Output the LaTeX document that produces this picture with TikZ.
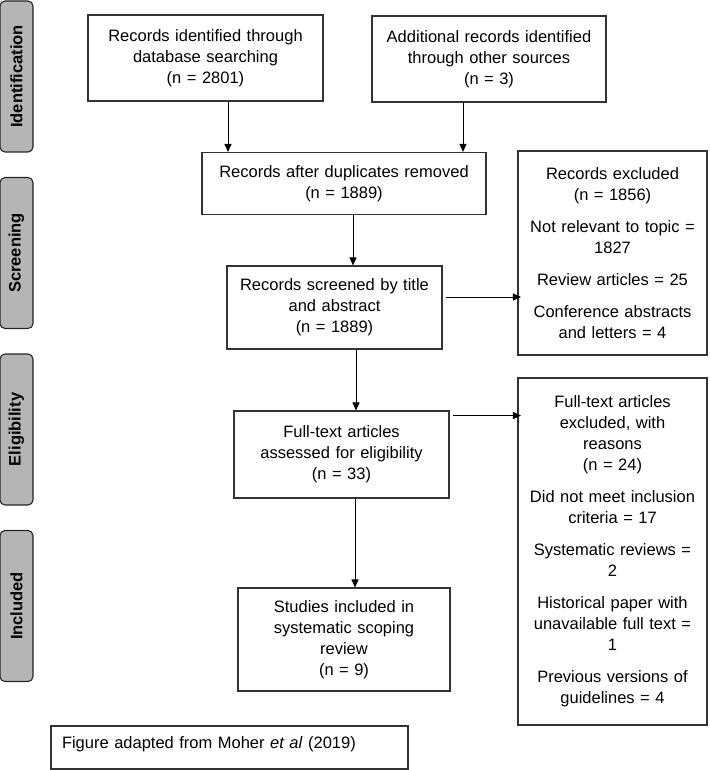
\documentclass[tikz,border=0pt]{standalone}
\usepackage{fontspec}
\setmainfont{Liberation Sans}
\usepackage{xcolor}
\usetikzlibrary{arrows,arrows.meta}
\definecolor{stagegray}{RGB}{181,181,181}
\tikzset{box/.style = {rectangle, draw=black!80, line width=1.1pt,
                           inner xsep=4pt, inner ysep=2pt, align=center,
                           font=\fontsize{16.5}{21}\selectfont}}

\begin{document}
\begin{tikzpicture}[x=1pt, y=-1pt, node distance=176.5pt, >={Triangle[length=8pt,width=7pt]}, line width=1pt, stage/.style = {draw=black!85, line width=1.1pt, fill=stagegray, rounded corners=5pt, rotate=90, minimum width=151pt, minimum height=33pt, inner sep=0pt, font=\fontsize{16.5}{18}\selectfont\bfseries}]
\useasboundingbox (0,0) rectangle (709,770);
% phases on the left
\node[stage] (idf) at (16.5,76.5) {Identification};
\node[below of=idf, stage] (scr) {Screening};
\node[below of=scr, stage] (elg) {Eligibility};
\node[below of=elg, stage] (inc) {Included};
% flow boxes
\node[box, minimum width=235pt, minimum height=86pt, text width=227pt] (db) at (205.5,58) {Records identified through\\database searching\\(n = 2801)};
\node[box, minimum width=234pt, minimum height=86pt, text width=226pt] (other) at (489,59) {Additional records identified\\through other sources\\(n = 3)};
\node[box, minimum width=284pt, minimum height=62pt, text width=276pt] (dup) at (344,183.5) {Records after duplicates removed\\(n = 1889)};
\node[box, minimum width=215pt, minimum height=83pt, text width=207pt] (scrd) at (334.5,307.5) {Records screened by title\\and abstract\\(n = 1889)};
\node[box, minimum width=215pt, minimum height=87pt, text width=207pt] (full) at (341.5,454.5) {Full-text articles\\assessed for eligibility\\(n = 33)};
\node[box, minimum width=212pt, minimum height=103pt, text width=204pt] (incl) at (344,639.5) {Studies included in\\systematic scoping\\review\\(n = 9)};
% exclusions
\node[box, minimum width=189pt, minimum height=204pt, text width=181pt] (excl) at (612.5,253) {Records excluded\\(n = 1856)\\[11pt]Not relevant to topic =\\1827\\[11pt]Review articles = 25\\[11pt]Conference abstracts\\and letters = 4};
\node[box, minimum width=189pt, minimum height=347pt, text width=181pt] (ftex) at (612.5,551.5) {Full-text articles\\excluded, with\\reasons\\(n = 24)\\[11pt]Did not meet inclusion\\criteria = 17\\[11pt]Systematic reviews =\\2\\[11pt]Historical paper with\\unavailable full text =\\1\\[11pt]Previous versions of\\guidelines = 4};
\node[box, minimum width=357pt, minimum height=43pt, text width=335pt, inner xsep=11pt, align=left, text depth=10pt] (note) at (229.5,747.5) {Figure adapted from Moher \textit{et al} (2019)};
% arrows
\draw[->] ([xshift=22.5pt]db.south) -- ([xshift=22.5pt]db.south |- dup.north);
\draw[->] ([xshift=-26pt]other.south) -- ([xshift=-26pt]other.south |- dup.north);
\draw[->] ([xshift=9pt]dup.south) -- ([xshift=9pt]dup.south |- scrd.north);
\draw[->] ([xshift=21.5pt]scrd.south) -- ([xshift=21.5pt]scrd.south |- full.north);
\draw[->] ([xshift=13.5pt]full.south) -- ([xshift=13.5pt]full.south |- incl.north);
\draw[->] ([xshift=3.5pt, yshift=10.5pt]scrd.east) -- ([xshift=3.5pt, yshift=10.5pt]scrd.east -| excl.west);
\draw[->] ([xshift=3.5pt, yshift=39pt]full.east) -- ([xshift=3.5pt, yshift=39pt]full.east -| ftex.west);
\end{tikzpicture}
\end{document}
